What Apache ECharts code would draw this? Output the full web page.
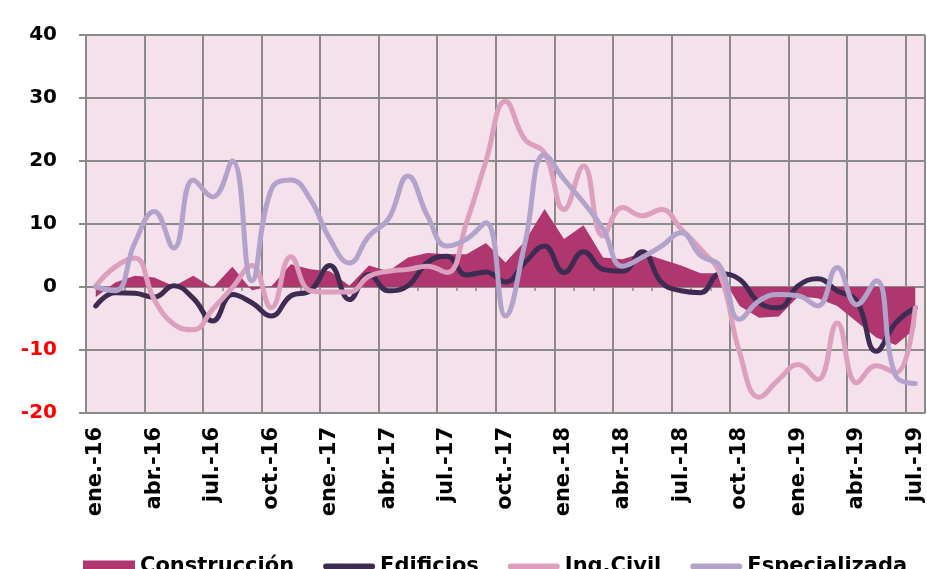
<!DOCTYPE html>
<html>
<head>
<meta charset="utf-8">
<script src="https://cdn.jsdelivr.net/npm/echarts@6/dist/echarts.min.js"></script>
<style>
  html, body { margin: 0; padding: 0; background: #ffffff; }
  #chart { width: 927px; height: 569px; }
</style>
</head>
<body>
<div id="chart"></div>
<script>
// Monthly categories, ene.-16 … jul.-19
const months = [
  'ene.-16','feb.-16','mar.-16','abr.-16','may.-16','jun.-16','jul.-16','ago.-16','sep.-16','oct.-16','nov.-16','dic.-16',
  'ene.-17','feb.-17','mar.-17','abr.-17','may.-17','jun.-17','jul.-17','ago.-17','sep.-17','oct.-17','nov.-17','dic.-17',
  'ene.-18','feb.-18','mar.-18','abr.-18','may.-18','jun.-18','jul.-18','ago.-18','sep.-18','oct.-18','nov.-18','dic.-18',
  'ene.-19','feb.-19','mar.-19','abr.-19','may.-19','jun.-19','jul.-19'
];

// Annual variation (%) by sector
const construccion = [
  -1.6, 0.7, 1.8, 1.5, 0.1, 1.8, -0.1, 3.2, -0.5, 0.1, 3.6, 2.8,
  2.5, 0.2, 3.4, 2.5, 4.7, 5.4, 5.2, 5.2, 7.0, 3.9, 7.3, 12.4,
  7.6, 9.8, 4.7, 4.4, 5.4, 4.4, 3.4, 2.2, 2.2, -3.0, -4.9, -4.7,
  -1.5, -1.8, -3.0, -5.5, -8.0, -9.2, -6.6
];
const edificios = [
  -3.0, -0.9, -1.0, -1.6, 0.2, -1.8, -5.4, -1.2, -2.5, -4.6, -1.4, -0.6,
  3.4, -2.0, 2.0, -0.6, 0.2, 3.9, 4.9, 1.9, 2.4, 0.8, 3.9, 6.5,
  2.3, 5.6, 2.8, 2.5, 5.6, 0.7, -0.6, -0.9, 2.1, 1.2, -2.5, -3.3,
  0.2, 1.3, -0.6, -2.2, -10.2, -5.7, -3.3
];
const ingCivil = [
  0.2, 3.2, 4.6, -2.0, -5.9, -6.8, -3.5, -0.1, 3.4, -3.3, 4.8, -0.6,
  -0.8, -0.8, 1.7, 2.5, 2.8, 3.3, 2.3, 10.2, 20.0, 29.5, 23.4, 21.3,
  12.3, 19.2, 8.1, 12.6, 11.3, 12.3, 9.2, 6.0, 2.0, -10.4, -17.5, -14.7,
  -12.3, -14.7, -5.7, -15.2, -12.5, -13.6, -3.3
];
const especializada = [
  0.0, -0.6, 7.0, 12.0, 6.2, 17.0, 14.3, 20.0, 1.0, 15.5, 17.0, 13.9,
  7.6, 3.8, 8.1, 10.8, 17.6, 11.3, 6.5, 7.6, 10.2, -4.6, 7.0, 21.0,
  17.1, 13.4, 9.2, 3.3, 4.7, 6.5, 8.6, 5.0, 3.3, -5.1, -2.2, -1.2,
  -1.4, -3.0, 3.1, -2.8, 1.0, -14.1, -15.3
];

const seriesNames = ['Construcción', 'Edificios', 'Ing.Civil', 'Especializada'];
const yMin = -20, yMax = 40, yStep = 10;

const FONT = '"DejaVu Sans", Verdana, sans-serif';
const GRID_COLOR = '#8a8a8a';
const colors = {
  construccion: '#b0366f',
  edificios: '#3e2b52',
  ingCivil: '#dc9fbd',
  especializada: '#b3a3cb'
};

const lineIcon = 'path://M3,0 L51,0 A3,3 0 0 1 51,6 L3,6 A3,3 0 0 1 3,0 Z';

const chart = echarts.init(document.getElementById('chart'), null, { renderer: 'canvas' });

chart.setOption({
  animation: false,
  backgroundColor: '#ffffff',
  grid: {
    left: 86, right: 2, top: 35, bottom: 156,
    show: true, backgroundColor: '#f4e1eb', borderWidth: 0
  },
  legend: {
    left: 83, top: 556, padding: 0,
    itemWidth: 52, itemHeight: 12, itemGap: 29,
    textStyle: { fontFamily: FONT, fontWeight: 'bold', fontSize: 21, color: '#000' },
    itemStyle: { borderWidth: 0 },
    data: [
      { name: seriesNames[0], icon: 'rect' },
      { name: seriesNames[1], icon: lineIcon },
      { name: seriesNames[2], icon: lineIcon },
      { name: seriesNames[3], icon: lineIcon }
    ]
  },
  xAxis: [
    {
      type: 'category',
      data: months,
      boundaryGap: true,
      position: 'bottom',
      axisLine: { onZero: false, lineStyle: { color: GRID_COLOR, width: 2 } },
      axisTick: { show: false },
      axisLabel: {
        interval: 2, rotate: 90, margin: 14,
        fontFamily: FONT, fontWeight: 'bold', fontSize: 21, color: '#000'
      },
      splitLine: { show: true, interval: 2, lineStyle: { color: GRID_COLOR, width: 2 } }
    },
    {
      // zero line with monthly tick marks
      type: 'category',
      data: months,
      boundaryGap: true,
      position: 'top',
      axisLine: { onZero: true, lineStyle: { color: GRID_COLOR, width: 2 } },
      axisTick: { show: true, interval: 0, inside: true, length: 4, lineStyle: { color: GRID_COLOR, width: 1.5 } },
      axisLabel: { show: false },
      splitLine: { show: false }
    }
  ],
  yAxis: {
    type: 'value',
    min: yMin, max: yMax, interval: yStep,
    axisLine: { show: true, lineStyle: { color: GRID_COLOR, width: 2 } },
    axisTick: { show: true, length: 7, lineStyle: { color: GRID_COLOR, width: 2 } },
    axisLabel: {
      margin: 29,
      fontFamily: FONT, fontWeight: 'bold', fontSize: 20,
      color: v => (v < 0 ? '#ff0000' : '#000000')
    },
    splitLine: { show: true, lineStyle: { color: GRID_COLOR, width: 2 } }
  },
  series: [
    {
      name: seriesNames[0], type: 'line', data: construccion,
      xAxisIndex: 0, symbol: 'none', smooth: false,
      color: colors.construccion,
      lineStyle: { width: 0, color: colors.construccion },
      areaStyle: { color: colors.construccion, opacity: 1 },
      z: 2
    },
    {
      name: seriesNames[1], type: 'line', data: edificios,
      xAxisIndex: 0, symbol: 'none', smooth: 0.45,
      color: colors.edificios,
      lineStyle: { width: 5, color: colors.edificios, cap: 'round', join: 'round' },
      z: 3
    },
    {
      name: seriesNames[2], type: 'line', data: ingCivil,
      xAxisIndex: 0, symbol: 'none', smooth: 0.45,
      color: colors.ingCivil,
      lineStyle: { width: 5, color: colors.ingCivil, cap: 'round', join: 'round' },
      z: 4
    },
    {
      name: seriesNames[3], type: 'line', data: especializada,
      xAxisIndex: 0, symbol: 'none', smooth: 0.45,
      color: colors.especializada,
      lineStyle: { width: 5, color: colors.especializada, cap: 'round', join: 'round' },
      z: 5
    }
  ]
});
</script>
</body>
</html>
